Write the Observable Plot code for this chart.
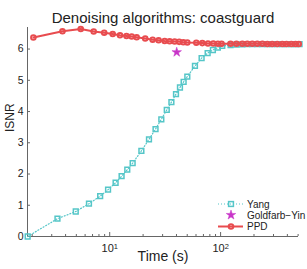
<!DOCTYPE html>
<html><head><meta charset="utf-8">
<script src="https://cdn.jsdelivr.net/npm/d3@7"></script>
<script src="https://cdn.jsdelivr.net/npm/@observablehq/plot@0.6"></script>
<style>
body{margin:0;background:#fff}
svg{font-family:"Liberation Sans",Arial,Helvetica,sans-serif}
</style>
</head><body><div id="chart"></div>
<script>
const title = "Denoising algorithms: coastguard";
const xLabel = "Time (s)";
const yLabel = "ISNR";
const seriesNames = ["Yang", "Goldfarb\u2212Yin", "PPD"];

const yangTime = [1.82, 3.38, 4.94, 6.5, 8.2, 9.66, 11.3, 12.8, 14.4, 16.1, 19.3, 22.6, 25.9, 29.2, 32.7, 36.0, 39.6, 43.0, 46.4, 50.1, 58.7, 67.4, 76.4, 85.2, 94.4, 103.5, 123, 139, 157, 174, 193, 214, 238, 264, 292, 324, 360, 393, 434, 474, 515];
const yangISNR = [0, 0.57, 0.80, 1.05, 1.29, 1.50, 1.72, 1.93, 2.14, 2.35, 2.74, 3.11, 3.44, 3.75, 4.05, 4.30, 4.56, 4.77, 4.95, 5.12, 5.46, 5.71, 5.87, 5.97, 6.05, 6.10, 6.13, 6.14, 6.15, 6.16, 6.16, 6.16, 6.16, 6.16, 6.16, 6.16, 6.16, 6.16, 6.16, 6.16, 6.16];

const ppdTime = [2.05, 3.75, 5.48, 7.17, 8.92, 10.64, 12.38, 14.17, 15.78, 17.5, 20.9, 24.4, 27.6, 31.3, 34.7, 38.5, 42.3, 46.1, 50.1, 60.4, 68.4, 76.9, 85.9, 94.6, 102, 123, 139, 157, 174, 193, 214, 238, 264, 292, 324, 360, 393, 434, 474, 507];
const ppdISNR = [6.37, 6.57, 6.64, 6.56, 6.52, 6.48, 6.44, 6.42, 6.40, 6.38, 6.34, 6.30, 6.28, 6.26, 6.25, 6.24, 6.23, 6.22, 6.21, 6.20, 6.19, 6.18, 6.18, 6.17, 6.17, 6.17, 6.17, 6.17, 6.17, 6.17, 6.17, 6.17, 6.16, 6.16, 6.16, 6.16, 6.16, 6.16, 6.16, 6.16];

const gyTime = [40.2];
const gyISNR = [5.90];

const yTicks = [0, 1, 2, 3, 4, 5, 6];
const xMajorTicks = [10, 100];
const xMinorTicks = [2, 3, 4, 5, 6, 7, 8, 9, 20, 30, 40, 50, 60, 70, 80, 90, 200, 300, 400, 500];
const xDomain = [1.814, 504];
const yDomain = [0, 6.69];

const cYang = "#55c6c8", cGY = "#c835c8", cPPD = "#e84c4f";
const axisColor = "#666", textColor = "#222";

const yang = yangTime.map((t, i) => ({t, v: yangISNR[i]}));
const ppd = ppdTime.map((t, i) => ({t, v: ppdISNR[i]}));
const gy = gyTime.map((t, i) => ({t, v: gyISNR[i]}));

const svg = Plot.plot({
  width: 307, height: 269,
  marginTop: 27, marginBottom: 33, marginLeft: 27, marginRight: 9,
  style: {fontFamily: '"Liberation Sans", Arial, sans-serif', fontSize: "10px", color: textColor, background: "white"},
  x: {type: "log", domain: xDomain},
  y: {domain: yDomain},
  marks: [
    Plot.ruleY([0], {stroke: axisColor}),
    Plot.ruleX([xDomain[0]], {stroke: axisColor}),
    Plot.axisX({ticks: xMinorTicks, tickSize: -2, tickFormat: () => "", stroke: axisColor, label: null}),
    Plot.axisX({ticks: xMajorTicks, tickSize: -4, tickFormat: () => "", stroke: axisColor, label: null}),
    Plot.axisX({ticks: xMajorTicks, tickSize: 0, tickPadding: 8, tickFormat: d => "10^" + Math.round(Math.log10(d)), fill: textColor, fontSize: 11, label: null}),
    Plot.axisY({ticks: yTicks, tickSize: -3, tickFormat: () => "", stroke: axisColor, label: null}),
    Plot.axisY({ticks: yTicks, tickSize: 0, tickPadding: 4, tickFormat: d => String(d), fill: textColor, fontSize: 10.5, label: null}),
    Plot.line(yang, {x: "t", y: "v", stroke: cYang, strokeWidth: 1.2, strokeDasharray: "1,2"}),
    Plot.dot(yang, {x: "t", y: "v", symbol: "square", r: 2.7, stroke: cYang, strokeWidth: 1.5, fill: "none"}),
    Plot.line(ppd, {x: "t", y: "v", stroke: cPPD, strokeWidth: 2}),
    Plot.dot(ppd, {x: "t", y: "v", r: 2.3, stroke: cPPD, strokeWidth: 2, fill: "none"}),
    Plot.dot(gy, {x: "t", y: "v", symbol: "star", r: 3, fill: cGY, stroke: cGY, strokeWidth: 0.5}),
    Plot.text([title], {text: d => d, frameAnchor: "top", dy: -15, fontSize: 15, fill: textColor}),
    Plot.text([xLabel], {text: d => d, frameAnchor: "bottom", dy: 24, fontSize: 14, fill: textColor}),
    Plot.text([yLabel], {text: d => d, frameAnchor: "left", dx: -17, rotate: -90, fontSize: 12, fill: textColor})
  ]
});

// Render "10^k" tick labels with a real superscript
d3.select(svg).selectAll("text").filter(function() { return /^10\^\d$/.test(this.textContent); })
  .each(function() {
    const k = this.textContent.split("^")[1];
    const t = d3.select(this);
    t.text("");
    t.append("tspan").text("10");
    t.append("tspan").attr("dy", "-0.45em").attr("font-size", "7.5px").text(k);
  });

// Legend (bottom-right inside the axes)
const lg = d3.select(svg).append("g").attr("text-anchor", "start");
const rows = [
  {name: seriesNames[0], y: 204},
  {name: seriesNames[1], y: 215},
  {name: seriesNames[2], y: 226.5}
];
const lx0 = 218, lx1 = 243, lm = 231, lt = 247;
lg.append("line").attr("x1", lx0).attr("x2", lx1).attr("y1", rows[0].y).attr("y2", rows[0].y)
  .attr("stroke", cYang).attr("stroke-width", 1.2).attr("stroke-dasharray", "1,2");
lg.append("rect").attr("x", lm - 2.4).attr("y", rows[0].y - 2.4).attr("width", 4.8).attr("height", 4.8)
  .attr("fill", "none").attr("stroke", cYang).attr("stroke-width", 1.5);
lg.append("path").attr("transform", `translate(${lm},${rows[1].y})`)
  .attr("d", d3.symbol(d3.symbolStar, Math.PI * 9)()).attr("fill", cGY).attr("stroke", cGY).attr("stroke-width", 0.5);
lg.append("line").attr("x1", lx0).attr("x2", lx1).attr("y1", rows[2].y).attr("y2", rows[2].y)
  .attr("stroke", cPPD).attr("stroke-width", 2);
lg.append("circle").attr("cx", lm).attr("cy", rows[2].y).attr("r", 2.3)
  .attr("fill", "none").attr("stroke", cPPD).attr("stroke-width", 2);
lg.selectAll("text.lbl").data(rows).join("text").attr("class", "lbl")
  .attr("x", lt).attr("y", d => d.y).attr("dy", "0.35em")
  .attr("font-size", 10).attr("fill", textColor).text(d => d.name);

document.getElementById("chart").appendChild(svg);
</script>
</body></html>
